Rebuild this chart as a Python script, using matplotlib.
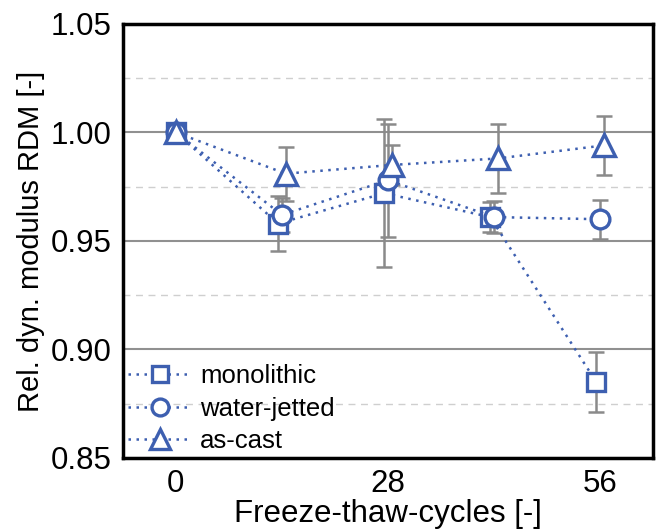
import matplotlib.pyplot as plt
from matplotlib.ticker import MultipleLocator

plt.rcParams["font.family"] = ["Liberation Sans", "DejaVu Sans"]

# freeze-thaw cycles and relative dynamic modulus per variant
cycles = [0, 14, 28, 42, 56]
monolithic = [1.000, 0.958, 0.972, 0.961, 0.885]
monolithic_err = [0.0, 0.0125, 0.034, 0.007, 0.014]
water_jetted = [1.000, 0.962, 0.978, 0.961, 0.960]
water_jetted_err = [0.0, 0.008, 0.026, 0.0075, 0.009]
as_cast = [1.000, 0.981, 0.985, 0.988, 0.994]
as_cast_err = [0.0, 0.0125, 0.009, 0.016, 0.0135]

series = [
    ("monolithic", monolithic, monolithic_err, "s", -0.5, 13),
    ("water-jetted", water_jetted, water_jetted_err, "o", 0.0, 13.5),
    ("as-cast", as_cast, as_cast_err, "^", 0.5, 15.5),
]

blue = "#3d5fb0"
grey = "#8a8a8a"

fig = plt.figure(figsize=(6.57, 5.31), dpi=100)
ax = fig.add_axes([0.187, 0.1375, 0.807, 0.8175])

for label, vals, errs, marker, shift, ms in series:
    # small horizontal shift so overlapping series stay readable (not at start)
    xs = [c + shift if c > 0 else c for c in cycles]
    ax.errorbar(xs, vals, yerr=errs, fmt="none", ecolor=grey, elinewidth=1.8,
                capsize=6, capthick=1.8, zorder=2)
    ax.plot(xs, vals, linestyle=(0, (1, 2.2)), linewidth=1.8, color=blue,
            marker=marker, markersize=ms, markerfacecolor="white",
            markeredgecolor=blue, markeredgewidth=2.4, label=label, zorder=3)

ax.set_xlim(-7, 63)
ax.set_ylim(0.85, 1.05)
ax.set_xticks([0, 28, 56])
ax.yaxis.set_major_locator(MultipleLocator(0.05))
ax.yaxis.set_minor_locator(MultipleLocator(0.025))
ax.yaxis.set_major_formatter(plt.FormatStrFormatter("%.2f"))
ax.grid(True, axis="y", which="major", color="#909090", linewidth=1.5, zorder=0)
ax.grid(True, axis="y", which="minor", color="#cfcfcf", linewidth=1.0,
        linestyle=(0, (5, 4)), zorder=0)
ax.set_axisbelow(True)
ax.tick_params(axis="both", which="both", length=0, labelsize=22.5, pad=8)

for s in ax.spines.values():
    s.set_linewidth(2.5)

ax.set_xlabel("Freeze-thaw-cycles [-]", fontsize=22.5, labelpad=0)
ax.set_ylabel("Rel. dyn. modulus RDM [-]", fontsize=21, labelpad=4)

ax.legend(loc="lower left", frameon=False, fontsize=18.5, handlelength=2.5,
          handletextpad=0.3, labelspacing=0.32, borderaxespad=0.05,
          borderpad=0.15, markerscale=0.9)

fig.savefig("out.png", dpi=100)
